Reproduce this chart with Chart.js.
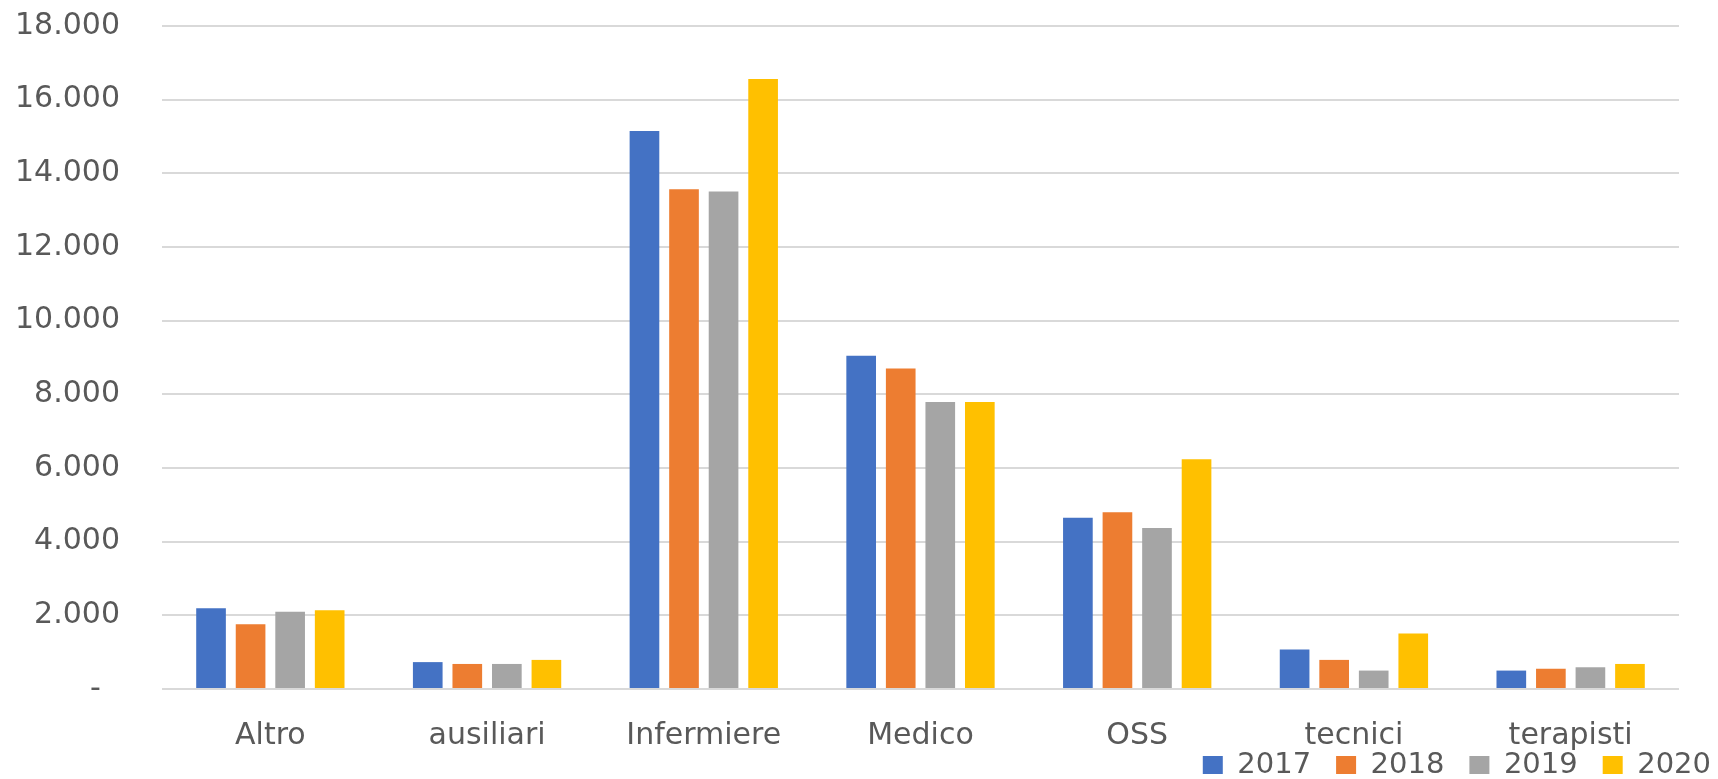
<!DOCTYPE html>
<html>
<head>
<meta charset="utf-8">
<script src="https://cdn.jsdelivr.net/npm/chart.js@4.4.1/dist/chart.umd.min.js"></script>
<style>
  html, body { margin: 0; padding: 0; background: #ffffff; }
  #wrap { width: 1718px; height: 779px; position: relative; }
</style>
</head>
<body>
<div id="wrap"><canvas id="c"></canvas></div>
<script>
const categories = ['Altro', 'ausiliari', 'Infermiere', 'Medico', 'OSS', 'tecnici', 'terapisti'];
const seriesNames = ['2017', '2018', '2019', '2020'];
const values2017 = [2190, 730, 15150, 9050, 4650, 1070, 500];
const values2018 = [1760, 680, 13570, 8700, 4800, 790, 550];
const values2019 = [2095, 680, 13510, 7790, 4370, 500, 590];
const values2020 = [2135, 790, 16560, 7790, 6235, 1510, 680];
const seriesColors = ['#4472C4', '#ED7D31', '#A5A5A5', '#FFC000'];
const yMin = 0, yMax = 18000, yStep = 2000;

function fmt(v) {
  if (v === 0) return '-  ';
  return String(v).replace(/\B(?=(\d{3})+(?!\d))/g, '.');
}

const FONT = "'DejaVu Sans', sans-serif";
const LEGEND_DX = 57, LEGEND_DY = -28.5;

const shiftLegend = {
  id: 'shiftLegend',
  afterLayout(chart) {
    const lg = chart.legend;
    if (!lg) return;
    lg.left += LEGEND_DX; lg.right += LEGEND_DX;
    lg.top += LEGEND_DY;
    lg.height = lg.bottom - lg.top;
  }
};

const allValues = [values2017, values2018, values2019, values2020];

new Chart(document.getElementById('c'), {
  type: 'bar',
  data: {
    labels: categories,
    datasets: seriesNames.map((name, i) => ({
      label: name,
      data: allValues[i],
      backgroundColor: seriesColors[i],
      borderWidth: 0,
      categoryPercentage: 0.73,
      barPercentage: 0.75
    }))
  },
  options: {
    responsive: true,
    maintainAspectRatio: false,
    animation: false,
    devicePixelRatio: 1,
    layout: { padding: { top: 26, right: 39, bottom: 0, left: 0 } },
    plugins: {
      tooltip: { enabled: false },
      legend: {
        position: 'bottom',
        align: 'end',
        maxHeight: 25,
        labels: {
          font: { family: FONT, size: 29 },
          color: '#595959',
          boxWidth: 20,
          boxHeight: 18,
          padding: 25
        }
      }
    },
    scales: {
      x: {
        grid: { display: false, drawTicks: false },
        border: { display: false },
        ticks: {
          font: { family: FONT, size: 30 },
          color: '#595959',
          padding: 29,
          maxRotation: 0,
          autoSkip: false
        },
        afterFit(scale) { scale.height = 65; }
      },
      y: {
        min: yMin,
        max: yMax,
        grid: { color: '#d9d9d9', lineWidth: 2, drawTicks: true, tickLength: 42, tickColor: 'rgba(0,0,0,0)' },
        border: { display: false },
        ticks: {
          stepSize: yStep,
          font: { family: FONT, size: 30 },
          color: '#595959',
          padding: 0,
          callback: (v) => fmt(v)
        },
        afterFit(scale) { scale.width = 162; }
      }
    }
  },
  plugins: [shiftLegend]
});
</script>
</body>
</html>
